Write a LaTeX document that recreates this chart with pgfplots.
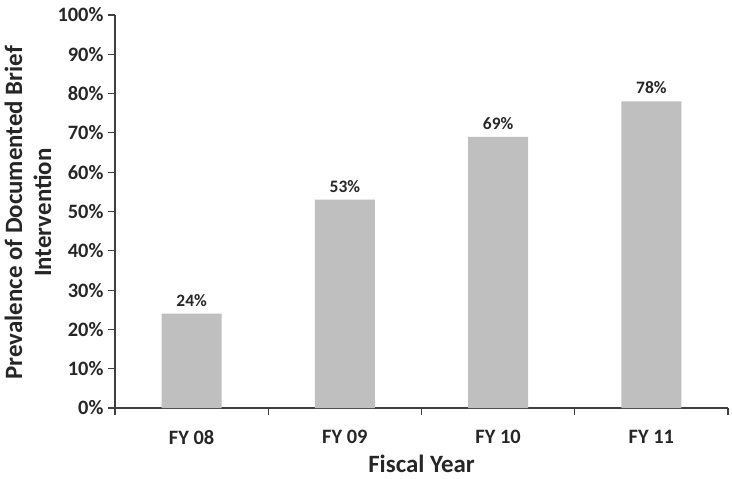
\documentclass[border=0pt]{standalone}
\usepackage{pgfplots}
\pgfplotsset{compat=1.18}
\usepackage{fontspec}
\setmainfont{Carlito}
\definecolor{bargray}{HTML}{BFBFBF}
\definecolor{axgray}{HTML}{404040}
\begin{document}
\begin{tikzpicture}[font=\bfseries]
\begin{axis}[
  at={(0,0)}, anchor=south west,
  scale only axis, width=613bp, height=393bp,
  xmin=-0.5, xmax=3.5, ymin=0, ymax=100,
  axis x line=bottom, axis y line=left,
  axis line style={draw=axgray, line width=1.4pt, -},
  xtick={0,1,2,3},
  xticklabels={FY 08, FY 09, FY 10, FY 11},
  major x tick style={draw=none},
  minor xtick={-0.5,0.5,1.5,2.5,3.5},
  minor x tick style={draw=axgray, line width=1.2pt},
  minor tick length=7bp,
  ytick={0,10,...,100},
  yticklabel={\pgfmathprintnumber{\tick}\%},
  /pgf/number format/assume math mode=true,
  y tick style={draw=axgray, line width=1.2pt},
  major tick length=7bp,
  tick align=outside,
  tick label style={font=\fontsize{20.5}{22}\selectfont\bfseries, text=black!85},
  yticklabel style={xshift=-1bp},
  xticklabel style={yshift=-12bp},
  xlabel={Fiscal Year},
  ylabel={Prevalence of Documented Brief\\Intervention},
  xlabel style={font=\fontsize{25}{28}\selectfont\bfseries, text=black!85, at={(axis description cs:0.5,0)}, anchor=center, inner sep=0pt, yshift=-56bp},
  ylabel style={font=\fontsize{25}{29}\selectfont\bfseries, text=black!85, align=center, at={(axis description cs:-0.142,0.497)}, anchor=center},
  ybar, bar width=60bp,
  nodes near coords={\pgfmathprintnumber{\pgfplotspointmeta}\%},
  nodes near coords style={font=\fontsize{17.5}{19}\selectfont\bfseries, text=black!85, yshift=4bp},
  clip=false,
]
\addplot[fill=bargray, draw=none] coordinates {(0,24) (1,53) (2,69) (3,78)};
\end{axis}
\pgfresetboundingbox
\path (-115bp,-71bp) rectangle (617bp,408bp);
\end{tikzpicture}
\end{document}
